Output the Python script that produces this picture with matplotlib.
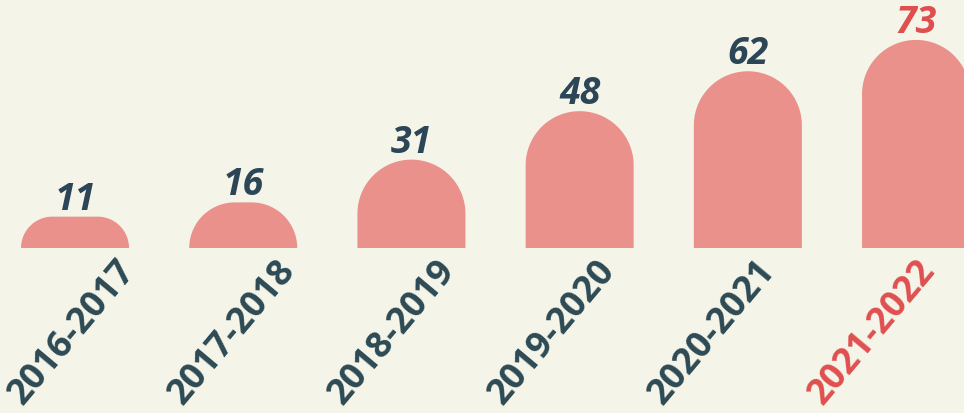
import matplotlib
matplotlib.use('Agg')
import matplotlib.pyplot as plt
import numpy as np
from matplotlib.patches import PathPatch
from matplotlib.path import Path

# ---- data ----
seasons = ['2016-2017', '2017-2018', '2018-2019', '2019-2020', '2020-2021', '2021-2022']
values = [11, 16, 31, 48, 62, 73]
highlight = '2021-2022'

# ---- style ----
BG = '#F4F5E8'
BAR = '#E9918A'
DARK = '#2C4557'
TICK = '#2D4A54'
RED = '#E04F4F'
FONT = 'Open Sans'

FW, FH, DPI = 9.64, 4.13, 100
fig = plt.figure(figsize=(FW, FH), dpi=DPI)
fig.patch.set_facecolor(BG)

base_px = 248  # baseline from top, pixels
ax = fig.add_axes([0, 1 - base_px / (FH * DPI), 1, base_px / (FH * DPI)])
ax.set_facecolor(BG)
ax.axis('off')

xpos = np.arange(len(values))
xlim = (-0.446, 5.285)
ylim = (0, 87)
ax.set_xlim(*xlim)
ax.set_ylim(*ylim)

px_x = FW * DPI / (xlim[1] - xlim[0])
px_y = base_px / (ylim[1] - ylim[0])
bw = 0.642  # bar width in data units


def arc(cx, cy, rx, ry, a0, a1, n=40):
    t = np.linspace(a0, a1, n)
    return np.column_stack([cx + rx * np.cos(t), cy + ry * np.sin(t)])


for xi, v, s in zip(xpos, values, seasons):
    x0, x1 = xi - bw / 2, xi + bw / 2
    w_px = bw * px_x
    h_px = v * px_y
    r_px = min(h_px, w_px / 2)
    rx, ry = r_px / px_x, r_px / px_y
    pts = [(x0, 0), (x0, v - ry)]
    pts += list(arc(x0 + rx, v - ry, rx, ry, np.pi, np.pi / 2))
    pts += [(x1 - rx, v)]
    pts += list(arc(x1 - rx, v - ry, rx, ry, np.pi / 2, 0))
    pts += [(x1, 0), (x0, 0)]
    codes = [Path.MOVETO] + [Path.LINETO] * (len(pts) - 2) + [Path.CLOSEPOLY]
    ax.add_patch(PathPatch(Path(pts, codes), facecolor=BAR, edgecolor='none'))

    col = RED if s == highlight else DARK
    ax.annotate(str(v), (xi, v), xytext=(0, 5), textcoords='offset points',
                ha='center', va='baseline', fontsize=27, fontweight='bold',
                fontstyle='italic', family=FONT, color=col)

# rotated category labels (spacing slightly tighter than bars)
lab_x0, lab_step, lab_y = 23, 160, 406
for i, s in enumerate(seasons):
    col = RED if s == highlight else TICK
    fig.text((lab_x0 + lab_step * i) / (FW * DPI), 1 - lab_y / (FH * DPI), s,
             rotation=50, rotation_mode='anchor', ha='left', va='baseline',
             fontsize=26, fontweight='bold', family=FONT, color=col)

fig.savefig('out.png', dpi=DPI, facecolor=BG)
